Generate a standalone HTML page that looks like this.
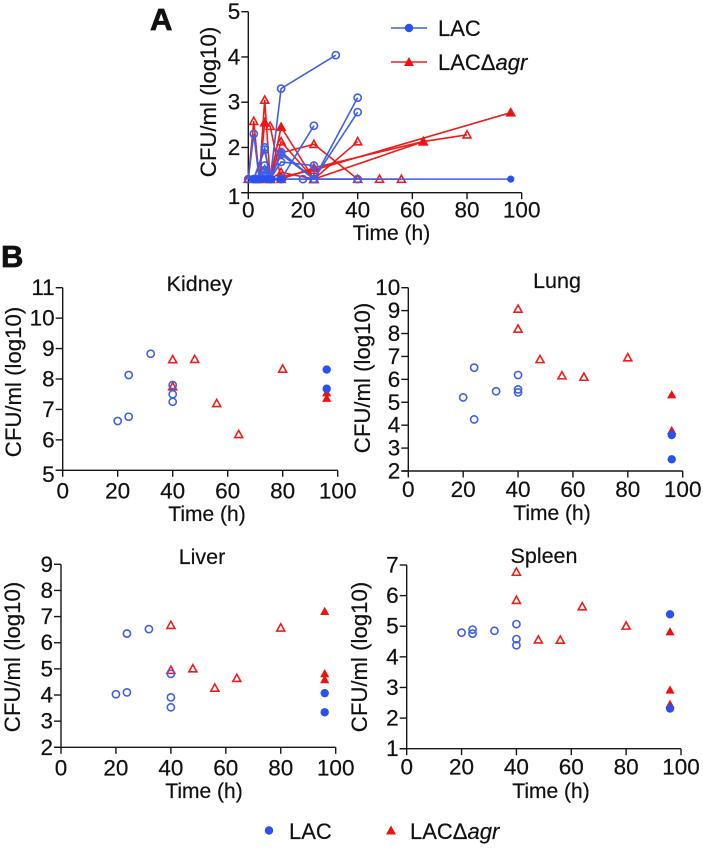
<!DOCTYPE html>
<html lang="en">
<head>
<meta charset="utf-8">
<title>CFU over time and by organ</title>
<style>
html,body{margin:0;padding:0;background:#fff;}
svg{display:block;}
text{font-family:"Liberation Sans",Arial,sans-serif;fill:#111;stroke:#111;stroke-width:.2;}
</style>
</head>
<body>
<svg id="fig" xmlns="http://www.w3.org/2000/svg" width="703" height="848" viewBox="0 0 703 848">
  <text x="150" y="30" font-size="31" font-weight="bold" style="stroke-width:.7">A</text>
  <text x="1" y="267" font-size="31" font-weight="bold" style="stroke-width:.7">B</text>

  <text x="199.500" y="291" font-size="21.5" text-anchor="middle">Kidney</text>
  <text x="557" y="288" font-size="21.5" text-anchor="middle">Lung</text>
  <text x="202" y="564" font-size="21.5" text-anchor="middle">Liver</text>
  <text x="544" y="563" font-size="21.5" text-anchor="middle">Spleen</text>

  <text x="391.500" y="240" font-size="21" text-anchor="middle">Time (h)</text>
  <text x="207" y="521" font-size="21" text-anchor="middle">Time (h)</text>
  <text x="552" y="520" font-size="21" text-anchor="middle">Time (h)</text>
  <text x="204" y="798" font-size="21" text-anchor="middle">Time (h)</text>
  <text x="551" y="798" font-size="21" text-anchor="middle">Time (h)</text>

  <text transform="translate(216,102) rotate(-90)" font-size="22.2" text-anchor="middle">CFU/ml (log10)</text>
  <text transform="translate(21,382) rotate(-90)" font-size="22.2" text-anchor="middle">CFU/ml (log10)</text>
  <text transform="translate(370,378) rotate(-90)" font-size="22.2" text-anchor="middle">CFU/ml (log10)</text>
  <text transform="translate(20,657) rotate(-90)" font-size="22.2" text-anchor="middle">CFU/ml (log10)</text>
  <text transform="translate(367,657) rotate(-90)" font-size="22.2" text-anchor="middle">CFU/ml (log10)</text>

  <g>
    <line x1="391" y1="28" x2="427" y2="28" stroke="#3f62e6" stroke-width="1.5"/>
    <circle cx="409" cy="28" r="4.2" fill="#2a50f0"/>
    <text x="438" y="36" font-size="22">LAC</text>
    <line x1="391" y1="62" x2="427" y2="62" stroke="#f01c1c" stroke-width="1.5"/>
    <polygon points="409,57 414,66 404,66" fill="#f01010"/>
    <text x="438" y="70" font-size="22">LACΔ<tspan font-style="italic">agr</tspan></text>
  </g>

  <g>
    <circle cx="269" cy="830.5" r="4.2" fill="#2a50f0"/>
    <text x="289" y="839" font-size="22">LAC</text>
    <polygon points="391,825.5 396,834.5 386,834.5" fill="#f01010"/>
    <text x="410" y="839" font-size="22">LACΔ<tspan font-style="italic">agr</tspan></text>
  </g>
</svg>
<script>
const xTickLabels = [0, 20, 40, 60, 80, 100];
const aYTicks = [1, 2, 3, 4, 5];
const kidneyYTicks = [5, 6, 7, 8, 9, 10, 11];
const lungYTicks = [2, 3, 4, 5, 6, 7, 8, 9, 10];
const liverYTicks = [2, 3, 4, 5, 6, 7, 8, 9];
const spleenYTicks = [1, 2, 3, 4, 5, 6, 7];

/* Panel A: individual animal traces as [time, log10 CFU] */
const lacTraces = [
  [[0, 1.3], [2, 2.3], [4, 1.3]],
  [[2, 1.3], [6, 2.0], [8, 1.3]],
  [[2, 1.3], [6, 1.95], [8, 1.3]],
  [[3, 1.3], [6, 1.6], [8, 1.3]],
  [[3, 1.3], [6, 1.5], [8, 1.3]],
  [[4, 1.3], [6, 1.45], [8, 1.3]],
  [[4, 1.3], [6, 1.38], [8, 1.3]],
  [[8, 1.3], [12, 3.3], [32, 4.04]],
  [[8, 1.3], [12, 1.9], [24, 1.3]],
  [[8, 1.3], [12, 1.85], [24, 1.3]],
  [[8, 1.3], [12, 1.68], [24, 1.6], [24, 1.3]],
  [[12, 1.3], [24, 2.48]],
  [[24, 1.3], [40, 3.1]],
  [[24, 1.3], [40, 2.78]],
  [[0, 1.3], [20, 1.3], [24, 1.3], [40, 1.3]]
];
const lacBaselineEnd = [[0, 1.3], [96, 1.3]];
const agrTraces = [
  [[0, 1.3], [2, 2.58], [4, 1.3]],
  [[4, 1.3], [6, 3.05], [8, 1.3]],
  [[4, 1.3], [6, 2.55], [8, 2.47], [12, 1.3]],
  [[8, 1.3], [12, 2.45], [24, 1.3]],
  [[8, 1.3], [12, 2.13], [24, 1.3]],
  [[8, 1.3], [12, 1.88], [24, 2.07], [40, 1.3]],
  [[8, 1.3], [12, 1.45], [24, 1.3]],
  [[12, 1.3], [24, 1.55], [64, 2.13], [80, 2.28]],
  [[24, 1.3], [40, 2.13]],
  [[24, 1.3], [64, 2.13]],
  [[12, 1.35], [24, 1.5], [96, 2.77]],
  [[24, 1.3], [48, 1.3], [56, 1.3]]
];
const lacFilledA = [[96, 1.3], [11.5, 1.3], [12.5, 1.3], [1.5, 1.3], [2, 1.3], [3, 1.3], [4, 1.3], [5, 1.3], [6, 1.3], [7, 1.3], [8, 1.3], [8.8, 1.3]];
const agrFilledA = [[96, 2.77], [64, 2.13], [6, 2.55], [12, 2.45]];

/* Panel B organ burdens as [time, log10 CFU] */
const kidneyLacOpen = [[20, 6.62], [24, 6.76], [24, 8.13], [32, 8.83], [40, 7.8], [40, 7.5], [40, 7.25]];
const kidneyAgrOpen = [[40, 8.64], [40, 7.75], [48, 8.65], [56, 7.2], [64, 6.18], [80, 8.33]];
const kidneyAgrFilled = [[96, 7.55], [96, 7.37]];
const kidneyLacFilled = [[96, 8.31], [96, 7.68]];

const lungLacOpen = [[20, 5.21], [24, 6.51], [24, 4.25], [32, 5.48], [40, 6.19], [40, 5.56], [40, 5.43]];
const lungAgrOpen = [[40, 9.07], [40, 8.2], [48, 6.87], [56, 6.16], [64, 6.1], [80, 6.95]];
const lungAgrFilled = [[96, 5.33], [96, 3.77]];
const lungLacFilled = [[96, 3.57], [96, 2.51]];

const liverLacOpen = [[20, 4.03], [24, 4.1], [24, 6.35], [32, 6.52], [40, 4.81], [40, 3.91], [40, 3.53]];
const liverAgrOpen = [[40, 6.67], [40, 4.95], [48, 5.01], [56, 4.27], [64, 4.64], [80, 6.57]];
const liverAgrFilled = [[96, 7.2], [96, 4.82], [96, 4.59]];
const liverLacFilled = [[96, 4.07], [96, 3.34]];

const spleenLacOpen = [[20, 4.79], [24, 4.89], [24, 4.76], [32, 4.85], [40, 5.07], [40, 4.58], [40, 4.38]];
const spleenAgrOpen = [[40, 6.77], [40, 5.85], [48, 4.56], [56, 4.55], [64, 5.64], [80, 5.01]];
const spleenAgrFilled = [[96, 4.82], [96, 2.92], [96, 2.45]];
const spleenLacFilled = [[96, 5.39], [96, 2.31]];

const NS = 'http://www.w3.org/2000/svg';
const BLUE = '#3f5fe8';
const BLUE_FILL = '#2a50f0';
const RED = '#ee1c1c';
const RED_FILL = '#f01010';
const INK = '#161616';
const root = document.getElementById('fig');

function make(tag, attrs, parent) {
  const el = document.createElementNS(NS, tag);
  for (const k in attrs) el.setAttribute(k, attrs[k]);
  parent.appendChild(el);
  return el;
}

function axisScale(d0, d1, p0, p1) {
  return function (v) { return p0 + (v - d0) / (d1 - d0) * (p1 - p0); };
}

function drawAxes(name, g, sx, sy, yTicks, labelDrop, firstShift) {
  const yMin = yTicks[0];
  const yMax = yTicks[yTicks.length - 1];
  const yAxis = make('line', { x1: sx(0), x2: sx(0), y1: sy(yMin), y2: sy(yMax), stroke: INK, 'stroke-width': 1.4 }, g);
  
  
  const xAxis = make('line', { x1: sx(0) - 7, x2: sx(100), y1: sy(yMin), y2: sy(yMin), stroke: INK, 'stroke-width': 1.4 }, g);
  
  
  xTickLabels.forEach(function (t) {
    const tick = make('line', { x1: sx(t), x2: sx(t), y1: sy(yMin), y2: sy(yMin) + 6.5, stroke: INK, 'stroke-width': 1.4 }, g);
    
    
    const label = make('text', { x: sx(t), y: sy(yMin) + labelDrop, 'font-size': 22.5, 'text-anchor': 'middle' }, g);
    
    
    label.textContent = t;
  });
  yTicks.forEach(function (v, i) {
    const tick = make('line', { x1: sx(0) - 7, x2: sx(0), y1: sy(v), y2: sy(v), stroke: INK, 'stroke-width': 1.4 }, g);
    
    
    const shift = i === 0 ? firstShift : 0;
    const label = make('text', { x: sx(0) - 8, y: sy(v) + 7.5 + shift, 'font-size': 22.5, 'text-anchor': 'end' }, g);
    
    
    label.textContent = v;
  });
}

function circle(g, name, x, y, filled, r) {
  const el = make('circle', {
    cx: x, cy: y, r: r,
    fill: filled ? BLUE_FILL : 'none',
    stroke: filled ? 'none' : BLUE,
    'stroke-width': 1.6
  }, g);
  
  
}

function triangle(g, name, x, y, filled, s) {
  const pts = x + ',' + (y - s) + ' ' + (x + s) + ',' + (y + s * 0.8) + ' ' + (x - s) + ',' + (y + s * 0.8);
  const el = make('polygon', {
    points: pts,
    fill: filled ? RED_FILL : 'none',
    stroke: filled ? 'none' : RED,
    'stroke-width': 1.6
  }, g);
  
  
}

function drawOrgan(name, box, yTicks, labelDrop, firstShift, lacOpen, agrOpen, agrFilled, lacFilled) {
  const g = make('g', {}, root);
  
  
  const sx = axisScale(0, 100, box.x0, box.x1);
  const sy = axisScale(yTicks[0], yTicks[yTicks.length - 1], box.y0, box.y1);
  drawAxes(name, g, sx, sy, yTicks, labelDrop, firstShift);
  agrFilled.forEach(function (p) { triangle(g, name + '-agr-survivor-point', sx(p[0]), sy(p[1]), true, 4.6); });
  agrOpen.forEach(function (p) { triangle(g, name + '-agr-point', sx(p[0]), sy(p[1]), false, 4); });
  lacOpen.forEach(function (p) { circle(g, name + '-lac-point', sx(p[0]), sy(p[1]), false, 3.6); });
  lacFilled.forEach(function (p) { circle(g, name + '-lac-survivor-point', sx(p[0]), sy(p[1]), true, 4.2); });
}

function drawPanelA() {
  const g = make('g', {}, root);
  
  
  const sx = axisScale(0, 100, 248.3, 521.7);
  const sy = axisScale(1, 5, 192.7, 11.7);
  drawAxes('blood', g, sx, sy, aYTicks, 25, 4);

  function trace(points, color, name) {
    const d = points.map(function (p) { return sx(p[0]) + ',' + sy(p[1]); }).join(' ');
    const el = make('polyline', { points: d, fill: 'none', stroke: color, 'stroke-width': 1.6 }, g);
    
    
  }

  agrTraces.forEach(function (t) {
    trace(t, RED, 'agr-trace');
  });
  agrTraces.forEach(function (t) {
    t.forEach(function (p) { triangle(g, 'agr-trace-point', sx(p[0]), sy(p[1]), false, 4); });
  });
  agrFilledA.forEach(function (p) { triangle(g, 'agr-filled-point', sx(p[0]), sy(p[1]), true, 3.8); });
  trace(lacBaselineEnd, BLUE, 'lac-baseline-trace');
  lacTraces.forEach(function (t) {
    trace(t, BLUE, 'lac-trace');
  });
  lacTraces.forEach(function (t) {
    t.forEach(function (p) { circle(g, 'lac-trace-point', sx(p[0]), sy(p[1]), false, 3.6); });
  });
  lacFilledA.forEach(function (p) { circle(g, 'lac-filled-point', sx(p[0]), sy(p[1]), true, 3.6); });
}

drawPanelA();
drawOrgan('kidney', { x0: 62.7, x1: 337.7, y0: 470.3, y1: 287.7 }, kidneyYTicks, 28, 4, kidneyLacOpen, kidneyAgrOpen, kidneyAgrFilled, kidneyLacFilled);
drawOrgan('lung', { x0: 408.3, x1: 682.7, y0: 471, y1: 287.7 }, lungYTicks, 26, 0, lungLacOpen, lungAgrOpen, lungAgrFilled, lungLacFilled);
drawOrgan('liver', { x0: 61, x1: 335.7, y0: 747.3, y1: 564.3 }, liverYTicks, 28, 0, liverLacOpen, liverAgrOpen, liverAgrFilled, liverLacFilled);
drawOrgan('spleen', { x0: 406.7, x1: 681, y0: 748.7, y1: 565 }, spleenYTicks, 26, 0, spleenLacOpen, spleenAgrOpen, spleenAgrFilled, spleenLacFilled);
</script>
</body>
</html>
